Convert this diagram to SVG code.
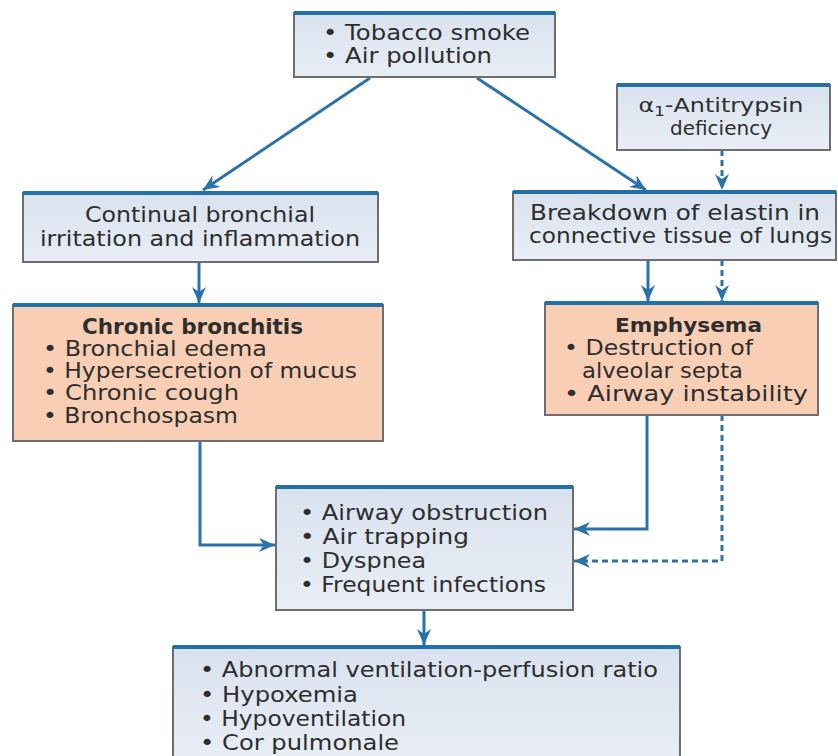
<svg xmlns="http://www.w3.org/2000/svg" width="838" height="756" viewBox="0 0 838 756">
<style>
.box{fill:#e3e9f2;stroke:#6e6e6e;stroke-width:2}
.hot{fill:#f8cfb4;stroke:#6e6e6e;stroke-width:2}
.topb{stroke:#2270a8;stroke-width:4}
text{font-family:"DejaVu Sans","Liberation Sans",sans-serif;font-size:21px;fill:#2e2e2e}
.b{font-weight:bold}
.s{font-size:20px}
.c{fill:none;stroke:#2a72ab;stroke-width:3}
.d{stroke-dasharray:6 4}
</style>
<defs>
<linearGradient id="g" x1="0" y1="0" x2="0" y2="1"><stop offset="0" stop-color="#d9e2ef"/><stop offset="1" stop-color="#e9eef5"/></linearGradient>
<marker id="a" viewBox="0 0 16 14" refX="16" refY="7" markerWidth="16" markerHeight="14" markerUnits="userSpaceOnUse" orient="auto"><path d="M0,0 L16,7 L0,14 L5,7 z" fill="#2a72ab"/></marker>
</defs>
<g id="connectors">
<path class="c" d="M370,78 L203,190" marker-end="url(#a)"/>
<path class="c" d="M477,78 L646,190" marker-end="url(#a)"/>
<path class="c d" d="M722,150 L722,190" marker-end="url(#a)"/>
<path class="c" d="M199,262 L199,303" marker-end="url(#a)"/>
<path class="c" d="M648,260 L648,301" marker-end="url(#a)"/>
<path class="c d" d="M722,260 L722,301" marker-end="url(#a)"/>
<path class="c" d="M200,441 L200,545 L275,545" marker-end="url(#a)"/>
<path class="c" d="M647,415 L647,529 L574,529" marker-end="url(#a)"/>
<path class="c d" d="M722,415 L722,561 L574,561" marker-end="url(#a)"/>
<path class="c" d="M424,610 L424,645" marker-end="url(#a)"/>
</g>
<g id="n-causes">
<rect class="box" x="294" y="13" width="261" height="64" style="fill:url(#g)"/>
<line class="topb" x1="294" y1="13" x2="555" y2="13"/>
<text x="323" y="40" textLength="207" lengthAdjust="spacingAndGlyphs">• Tobacco smoke</text>
<text x="323" y="63" textLength="169" lengthAdjust="spacingAndGlyphs">• Air pollution</text>
</g>
<g id="n-alpha">
<rect class="box" x="617" y="85" width="213" height="65" style="fill:url(#g)"/>
<line class="topb" x1="617" y1="85" x2="830" y2="85"/>
<text class="s" x="721" y="112" text-anchor="middle" textLength="165" lengthAdjust="spacingAndGlyphs">α<tspan font-size="14" dy="4">1</tspan><tspan dy="-4">-Antitrypsin</tspan></text>
<text class="s" x="721" y="135" text-anchor="middle">deficiency</text>
</g>
<g id="n-irritation">
<rect class="box" x="23" y="193" width="355" height="69" style="fill:url(#g)"/>
<line class="topb" x1="23" y1="193" x2="378" y2="193"/>
<text x="85" y="222" textLength="230" lengthAdjust="spacingAndGlyphs">Continual bronchial</text>
<text x="40" y="246" textLength="320" lengthAdjust="spacingAndGlyphs">irritation and inflammation</text>
</g>
<g id="n-elastin">
<rect class="box" x="513" y="192" width="323" height="68" style="fill:url(#g)"/>
<line class="topb" x1="513" y1="192" x2="836" y2="192"/>
<text x="530" y="220" textLength="290" lengthAdjust="spacingAndGlyphs">Breakdown  of elastin in</text>
<text x="529" y="243" textLength="303" lengthAdjust="spacingAndGlyphs">connective tissue of lungs</text>
</g>
<g id="n-bronchitis">
<rect class="hot" x="13" y="305" width="370" height="136"/>
<line class="topb" x1="13" y1="305" x2="383" y2="305"/>
<text class="b" x="82" y="334" textLength="221" lengthAdjust="spacingAndGlyphs">Chronic bronchitis</text>
<text x="43" y="356" textLength="224" lengthAdjust="spacingAndGlyphs">• Bronchial edema</text>
<text x="43" y="378" textLength="314" lengthAdjust="spacingAndGlyphs">• Hypersecretion of mucus</text>
<text x="43" y="400" textLength="196" lengthAdjust="spacingAndGlyphs">• Chronic cough</text>
<text x="43" y="423" textLength="195" lengthAdjust="spacingAndGlyphs">• Bronchospasm</text>
</g>
<g id="n-emphysema">
<rect class="hot" x="545" y="303" width="273" height="112"/>
<line class="topb" x1="545" y1="303" x2="818" y2="303"/>
<text class="b s" x="615" y="332" textLength="147" lengthAdjust="spacingAndGlyphs">Emphysema</text>
<text x="564" y="355" textLength="189" lengthAdjust="spacingAndGlyphs">• Destruction of</text>
<text x="582" y="378" textLength="161" lengthAdjust="spacingAndGlyphs">alveolar septa</text>
<text x="564" y="401" textLength="244" lengthAdjust="spacingAndGlyphs">• Airway instability</text>
</g>
<g id="n-obstruction">
<rect class="box" x="276" y="487" width="297" height="123" style="fill:url(#g)"/>
<line class="topb" x1="276" y1="487" x2="573" y2="487"/>
<text x="300" y="520" textLength="248" lengthAdjust="spacingAndGlyphs">• Airway obstruction</text>
<text x="300" y="544" textLength="169" lengthAdjust="spacingAndGlyphs">• Air trapping</text>
<text x="300" y="568" textLength="126" lengthAdjust="spacingAndGlyphs">• Dyspnea</text>
<text x="300" y="592" textLength="246" lengthAdjust="spacingAndGlyphs">• Frequent infections</text>
</g>
<g id="n-outcomes">
<rect class="box" x="173" y="647" width="507" height="115" style="fill:url(#g)"/>
<line class="topb" x1="173" y1="647" x2="680" y2="647"/>
<text x="200" y="677" textLength="458" lengthAdjust="spacingAndGlyphs">• Abnormal ventilation-perfusion ratio</text>
<text x="200" y="702" textLength="158" lengthAdjust="spacingAndGlyphs">• Hypoxemia</text>
<text x="200" y="726" textLength="206" lengthAdjust="spacingAndGlyphs">• Hypoventilation</text>
<text x="200" y="750" textLength="199" lengthAdjust="spacingAndGlyphs">• Cor pulmonale</text>
</g>
</svg>
